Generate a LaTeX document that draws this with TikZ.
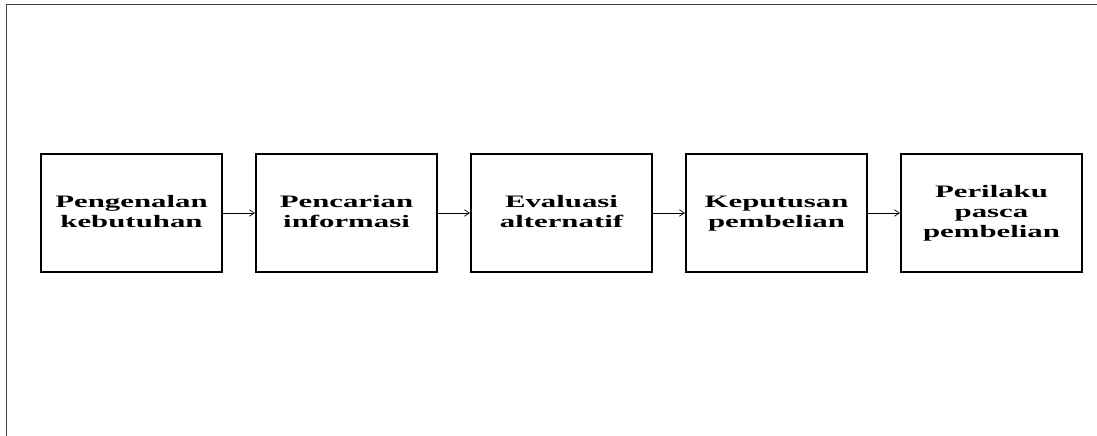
\documentclass[tikz,border=0pt]{standalone}
\usepackage{fontspec}
\usepackage{graphicx}
\setmainfont{Liberation Serif}
\usetikzlibrary{arrows.meta}
\newcommand{\stx}[1]{\raisebox{-3.5pt}{\scalebox{1.76}[1]{\begin{tabular}{@{}c@{}}#1\end{tabular}}}}
\begin{document}
\begin{tikzpicture}[x=1pt,y=-1pt,
  stage/.style={draw, line width=2pt, minimum width=181pt, minimum height=118pt, inner sep=0pt,
    font=\bfseries\fontsize{17.5}{20}\selectfont, align=center},
  flow/.style={-{Straight Barb[length=5pt,width=6.5pt]}, line width=0.7pt},
  frameline/.style={line width=1.5pt, black!75}]
\useasboundingbox (0,0) rectangle (1097,436);
\coordinate (fa) at (6.5,436);
\coordinate (fb) at (6.5,4.5);
\coordinate (fc) at (1097,4.5);
\draw[frameline] (fa) -- (fb) -- (fc);
\node[stage] (s1) at (131.5,213) {\stx{Pengenalan\\kebutuhan}};
\node[stage] (s2) at (346.5,213) {\stx{Pencarian\\informasi}};
\node[stage] (s3) at (561.5,213) {\stx{Evaluasi\\alternatif}};
\node[stage] (s4) at (776.5,213) {\stx{Keputusan\\pembelian}};
\node[stage] (s5) at (991.5,213) {\stx{Perilaku\\pasca\\pembelian}};
\draw[flow] (s1) -- (s2);
\draw[flow] (s2) -- (s3);
\draw[flow] (s3) -- (s4);
\draw[flow] (s4) -- (s5);
\end{tikzpicture}
\end{document}
